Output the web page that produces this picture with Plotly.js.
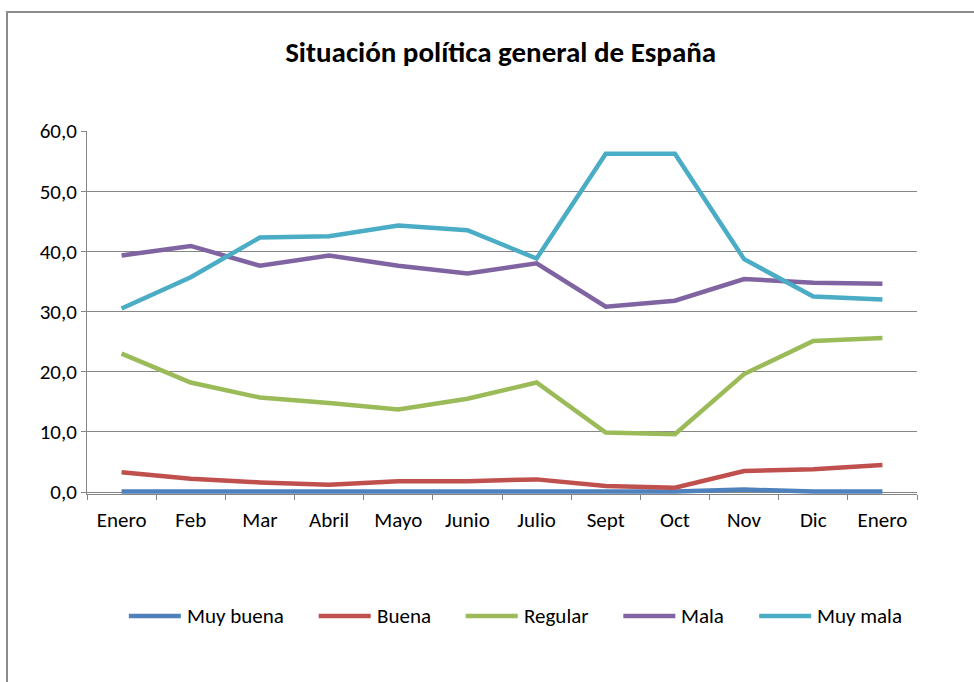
<!DOCTYPE html>
<html>
<head>
<meta charset="utf-8">
<script src="https://cdn.plot.ly/plotly-3.0.1.min.js"></script>
<style>
html,body{margin:0;padding:0;background:#fff;}
#wrap{position:relative;width:974px;height:682px;overflow:hidden;}
#chart{position:absolute;left:0;top:0;width:974px;height:682px;}
#frame{position:absolute;left:6px;top:11px;width:2000px;height:2000px;border-left:2px solid #8c8c8c;border-top:2px solid #8c8c8c;pointer-events:none;}
</style>
</head>
<body>
<div id="wrap"><div id="chart"></div><div id="frame"></div></div>
<script>
const categories = ["Enero","Feb","Mar","Abril","Mayo","Junio","Julio","Sept","Oct","Nov","Dic","Enero"];
const muyBuena = [0.1,0.1,0.1,0.1,0.1,0.1,0.1,0.1,0.1,0.4,0.1,0.1];
const buena    = [3.3,2.2,1.6,1.2,1.8,1.8,2.1,1.0,0.7,3.5,3.8,4.5];
const regular  = [23.0,18.2,15.7,14.8,13.7,15.5,18.2,9.9,9.6,19.6,25.1,25.6];
const mala     = [39.3,40.9,37.6,39.3,37.6,36.3,38.0,30.8,31.8,35.4,34.8,34.6];
const muyMala  = [30.5,35.7,42.3,42.5,44.3,43.5,38.8,56.2,56.2,38.7,32.5,32.0];
const seriesNames = ["Muy buena","Buena","Regular","Mala","Muy mala"];
const seriesData = [muyBuena,buena,regular,mala,muyMala];
const colors = ["#4F81BD","#C0504D","#9BBB59","#8064A2","#4BACC6"];

const xs = categories.map((c,i)=>i);
const traces = seriesData.map((d,k)=>({
  x: xs, y: d, name: seriesNames[k], type: 'scatter', mode: 'lines',
  line: {color: colors[k], width: 4.5}, showlegend: false
}));

const font = "Carlito, Calibri, 'Liberation Sans Narrow', 'Liberation Sans', sans-serif";
const fontSize = 21;

// Plot area geometry (pixels) used to place the custom legend in paper coordinates
const W = 974, H = 682;
const mL = 87, mR = 57, mT = 131, mB = 188;
const plotW = W - mL - mR, plotH = H - mT - mB;
const legendCenterPx = 515, legendYPx = 616;
const symLen = 52, symGap = 5, itemGap = 36;

const cv = document.createElement('canvas').getContext('2d');
cv.font = fontSize + "px " + font;
const textW = seriesNames.map(n => cv.measureText(n).width);
const totalW = textW.reduce((s,w)=>s + symLen + symGap + w, 0) + itemGap*(seriesNames.length-1);
let cursor = legendCenterPx - totalW/2;
const toPX = px => (px - mL)/plotW;
const legY = (H - mB - legendYPx)/plotH;
const shapes = [], annotations = [];
seriesNames.forEach((n,k)=>{
  shapes.push({type:'line', xref:'paper', yref:'paper', x0: toPX(cursor), x1: toPX(cursor+symLen), y0: legY, y1: legY,
               line:{color: colors[k], width: 4.5}});
  annotations.push({xref:'paper', yref:'paper', x: toPX(cursor+symLen+symGap), y: legY, xanchor:'left', yanchor:'middle',
                    text: n, showarrow:false, font:{family: font, size: fontSize, color:'#000'}, xshift: -1});
  cursor += symLen + symGap + textW[k] + itemGap;
});

const layout = {
  width: W, height: H,
  margin: {l: mL, r: mR, t: mT, b: mB},
  paper_bgcolor: '#fff', plot_bgcolor: '#fff',
  separators: ',.',
  font: {family: font, size: fontSize, color: '#000'},
  title: {text: '<b>Situación política general de España</b>', x: 0.514, xanchor: 'center', y: 0.924, yanchor: 'middle',
          font: {family: font, size: 29, color: '#000'}},
  showlegend: false,
  shapes: shapes,
  annotations: annotations,
  xaxis: {
    range: [-0.5, 11.5], tickvals: xs, ticktext: categories,
    ticks: '', showgrid: false, zeroline: false,
    showline: true, linecolor: '#868686', linewidth: 1,
    minor: {tick0: -0.5, dtick: 1, ticks: 'outside', ticklen: 5, tickcolor: '#868686', showgrid: false},
    ticklabelstandoff: 7,
    tickfont: {family: font, size: fontSize, color: '#000'}, fixedrange: true
  },
  yaxis: {
    range: [-0.33, 60], tickvals: [0,10,20,30,40,50,60], tickformat: '.1f',
    showgrid: true, gridcolor: '#868686', gridwidth: 1, zeroline: false,
    showline: true, linecolor: '#868686', linewidth: 1,
    ticks: 'outside', ticklen: 5, tickcolor: '#868686',
    tickfont: {family: font, size: fontSize, color: '#000'}, fixedrange: true
  }
};
Plotly.newPlot('chart', traces, layout, {displayModeBar: false, staticPlot: true});
</script>
</body>
</html>
